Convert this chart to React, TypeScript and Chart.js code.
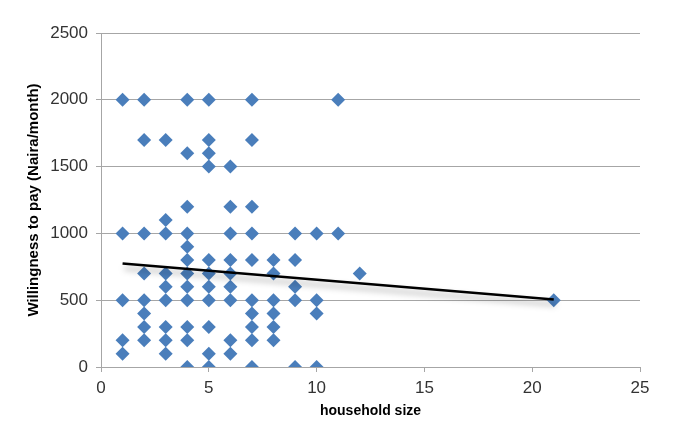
import React, { useEffect, useRef } from "react";
import { Chart, registerables } from "chart.js";

Chart.register(...registerables);

// household size -> willingness to pay values (Naira/month)
const householdSizes = [1, 2, 3, 4, 5, 6, 7, 8, 9, 10, 11, 12, 21];
const wtpBySize: number[][] = [
  [2000, 1000, 500, 200, 100],
  [2000, 1700, 1000, 700, 500, 400, 300, 200],
  [1700, 1100, 1000, 700, 600, 500, 300, 200, 100],
  [2000, 1600, 1200, 1000, 900, 800, 700, 600, 500, 300, 200, 0],
  [2000, 1700, 1600, 1500, 800, 700, 600, 500, 300, 100, 0],
  [1500, 1200, 1000, 800, 700, 600, 500, 200, 100],
  [2000, 1700, 1200, 1000, 800, 500, 400, 300, 200, 0],
  [800, 700, 500, 400, 300, 200],
  [1000, 800, 600, 500, 0],
  [1000, 500, 400, 0],
  [2000, 1000],
  [700],
  [500],
];

const trendX = [1, 21];
const trendY = [775, 505];

const xTitle = "household size";
const yTitle = "Willingness to pay (Naira/month)";

const shadowPlugin = {
  id: "trendShadow",
  beforeDatasetDraw(chart: any, args: any) {
    if (args.index === 0) {
      const ctx = chart.ctx;
      ctx.save();
      ctx.shadowColor = "rgba(0,0,0,0.35)";
      ctx.shadowBlur = 6;
      ctx.shadowOffsetX = 2;
      ctx.shadowOffsetY = 5;
    }
  },
  afterDatasetDraw(chart: any, args: any) {
    if (args.index === 0) chart.ctx.restore();
  },
};

export default function App() {
  const ref = useRef<HTMLCanvasElement | null>(null);
  useEffect(() => {
    if (!ref.current) return;
    const points: { x: number; y: number }[] = [];
    householdSizes.forEach((s, i) => wtpBySize[i].forEach((v) => points.push({ x: s, y: v })));
    const trend = trendX.map((x, i) => ({ x, y: trendY[i] }));
    const gridColor = "#a6a6a6";
    const tickFont = { family: "Liberation Sans", size: 17 };
    const fmt = (v: any) => String(v);
    const chart = new Chart(ref.current, {
      type: "scatter",
      data: {
        datasets: [
          {
            type: "line",
            label: "trend",
            data: trend,
            borderColor: "#000000",
            borderWidth: 2.5,
            pointRadius: 0,
            fill: false,
            order: 0,
          } as any,
          {
            label: "WTP",
            data: points,
            pointStyle: "rectRot",
            pointRadius: 7,
            backgroundColor: "#4a7ebb",
            borderColor: "#4a7ebb",
            borderWidth: 0,
            order: 1,
          },
        ],
      },
      options: {
        responsive: false,
        animation: false,
        layout: { padding: { top: 33, right: 33, left: 0, bottom: 0 } },
        plugins: { legend: { display: false }, tooltip: { enabled: false } },
        scales: {
          x: {
            type: "linear",
            min: 0,
            max: 25,
            ticks: { stepSize: 5, font: tickFont, color: "#333333", padding: 6, maxRotation: 0, callback: fmt },
            grid: { drawOnChartArea: false, drawTicks: true, tickLength: 5, color: gridColor },
            border: { display: true, color: gridColor },
            title: { display: true, text: xTitle, font: { family: "Liberation Sans", size: 14, weight: "bold" }, color: "#000", padding: { top: 0, bottom: 27 } },
            afterFit: (s: any) => { s.height = 80; },
          },
          y: {
            type: "linear",
            min: 0,
            max: 2500,
            ticks: { stepSize: 500, font: tickFont, color: "#333333", padding: 8, callback: fmt },
            grid: { drawTicks: true, tickLength: 5, color: gridColor },
            border: { display: true, color: gridColor },
            title: { display: true, text: yTitle, font: { family: "Liberation Sans", size: 15, weight: "bold" }, color: "#000", padding: { top: 25, bottom: 0 } },
            afterFit: (s: any) => { s.width = 101; },
          },
        },
      },
      plugins: [shadowPlugin],
    });
    return () => chart.destroy();
  }, []);
  return (
    <div style={{ position: "absolute", left: 0, top: 0, width: 673, height: 447, background: "#fff" }}>
      <canvas ref={ref} width={673} height={447} />
    </div>
  );
}
